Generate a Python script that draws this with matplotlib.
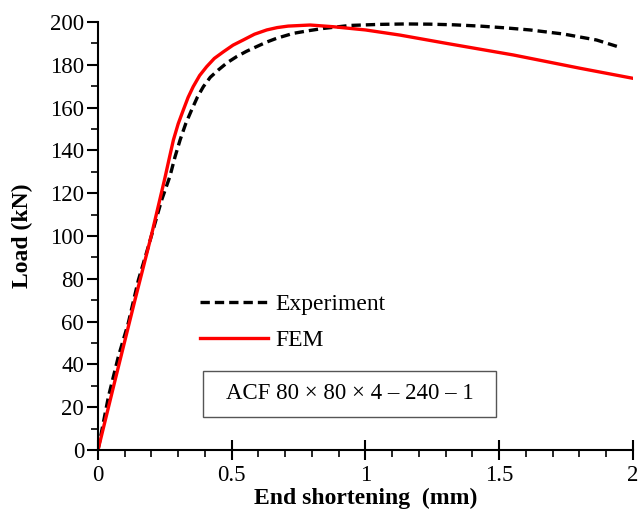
import numpy as np
import matplotlib
matplotlib.use("Agg")
import matplotlib.pyplot as plt
from matplotlib.ticker import MultipleLocator
from matplotlib.patches import Rectangle

plt.rcParams['font.family'] = ['Liberation Serif', 'DejaVu Serif']

# end shortening (mm) vs load (kN)
exp_x = [0.0, 0.039, 0.076, 0.113, 0.151, 0.188, 0.238, 0.269, 0.288, 0.307, 0.328,
         0.35, 0.372, 0.394, 0.42, 0.45, 0.483, 0.518, 0.555, 0.593, 0.63, 0.668,
         0.73, 0.79, 0.842, 0.942, 1.054, 1.15, 1.241, 1.33, 1.428, 1.52, 1.615,
         1.74, 1.864, 1.951]
exp_y = [0.0, 24.9, 43.6, 59.2, 79.4, 95.0, 116.8, 127.9, 137.0, 144.9, 152.5,
         158.9, 165.0, 169.8, 174.2, 177.6, 181.0, 183.8, 186.3, 188.5, 190.6, 192.4,
         194.7, 196.0, 197.0, 198.4, 198.9, 199.1, 199.0, 198.7, 198.1, 197.3, 196.3,
         194.4, 191.6, 188.2]

fem_x = [0.0, 0.064, 0.138, 0.2, 0.25, 0.265, 0.282, 0.3, 0.319, 0.337, 0.356, 0.38,
         0.406, 0.435, 0.469, 0.505, 0.543, 0.585, 0.631, 0.67, 0.711, 0.793, 0.88,
         1.0, 1.129, 1.304, 1.553, 1.802, 2.0]
fem_y = [0.0, 32.7, 70.0, 100.5, 127.0, 135.5, 144.9, 152.5, 158.9, 164.8, 169.8, 175.0,
         179.1, 183.0, 186.1, 189.2, 191.6, 194.3, 196.3, 197.4, 198.1, 198.6, 197.8,
         196.3, 193.9, 190.0, 184.6, 178.4, 173.7]

fig = plt.figure(figsize=(6.38, 5.11), dpi=100)
ax = fig.add_axes([0.1536, 0.1194, 0.8384, 0.8375])

ax.plot(exp_x, exp_y, color='black', lw=2.4, ls=(0, (2.8, 1.5)), label='Experiment')
ax.plot(fem_x, fem_y, color='#ff0000', lw=2.4, label='FEM')

ax.set_xlim(0, 2)
ax.set_ylim(0, 200)
ax.xaxis.set_minor_locator(MultipleLocator(0.1))
ax.yaxis.set_major_locator(MultipleLocator(20))
ax.yaxis.set_minor_locator(MultipleLocator(10))
ax.set_xticks([0, 0.5, 1, 1.5, 2])
ax.set_xticklabels(['0', '0.5', '1', '1.5', '2'])

for s in ['top', 'right']:
    ax.spines[s].set_visible(False)
for s in ['left', 'bottom']:
    ax.spines[s].set_linewidth(1.5)

ax.tick_params(axis='x', which='major', direction='inout', length=14, width=1.5,
               labelsize=16.5, pad=4)
ax.tick_params(axis='x', which='minor', direction='out', length=5, width=1.2)
ax.tick_params(axis='y', which='major', direction='out', length=8, width=1.5,
               labelsize=16.5, pad=2)
ax.tick_params(axis='y', which='minor', direction='out', length=5, width=1.2)

ax.set_xlabel('End shortening  (mm)', fontsize=17, fontweight='bold')
ax.xaxis.label.set_va('center')
ax.xaxis.set_label_coords(0.5, -0.112)
ax.set_ylabel('Load (kN)', fontsize=17, fontweight='bold')
ax.yaxis.label.set_va('center')
ax.yaxis.set_label_coords(-0.142, 0.5)

ax.legend(loc='upper left', bbox_to_anchor=(0.19, 0.366), frameon=False,
          fontsize=17, handlelength=2.9, handletextpad=0.3, labelspacing=0.62,
          borderpad=0, borderaxespad=0)

# specimen label
ax.add_patch(Rectangle((0.196, 0.077), 0.548, 0.108, transform=ax.transAxes,
                       fill=False, ec='#555555', lw=1))
ax.text(0.470, 0.131, 'ACF 80 × 80 × 4 – 240 – 1', transform=ax.transAxes,
        fontsize=16.5, ha='center', va='center')

fig.savefig('out.png', dpi=100)
